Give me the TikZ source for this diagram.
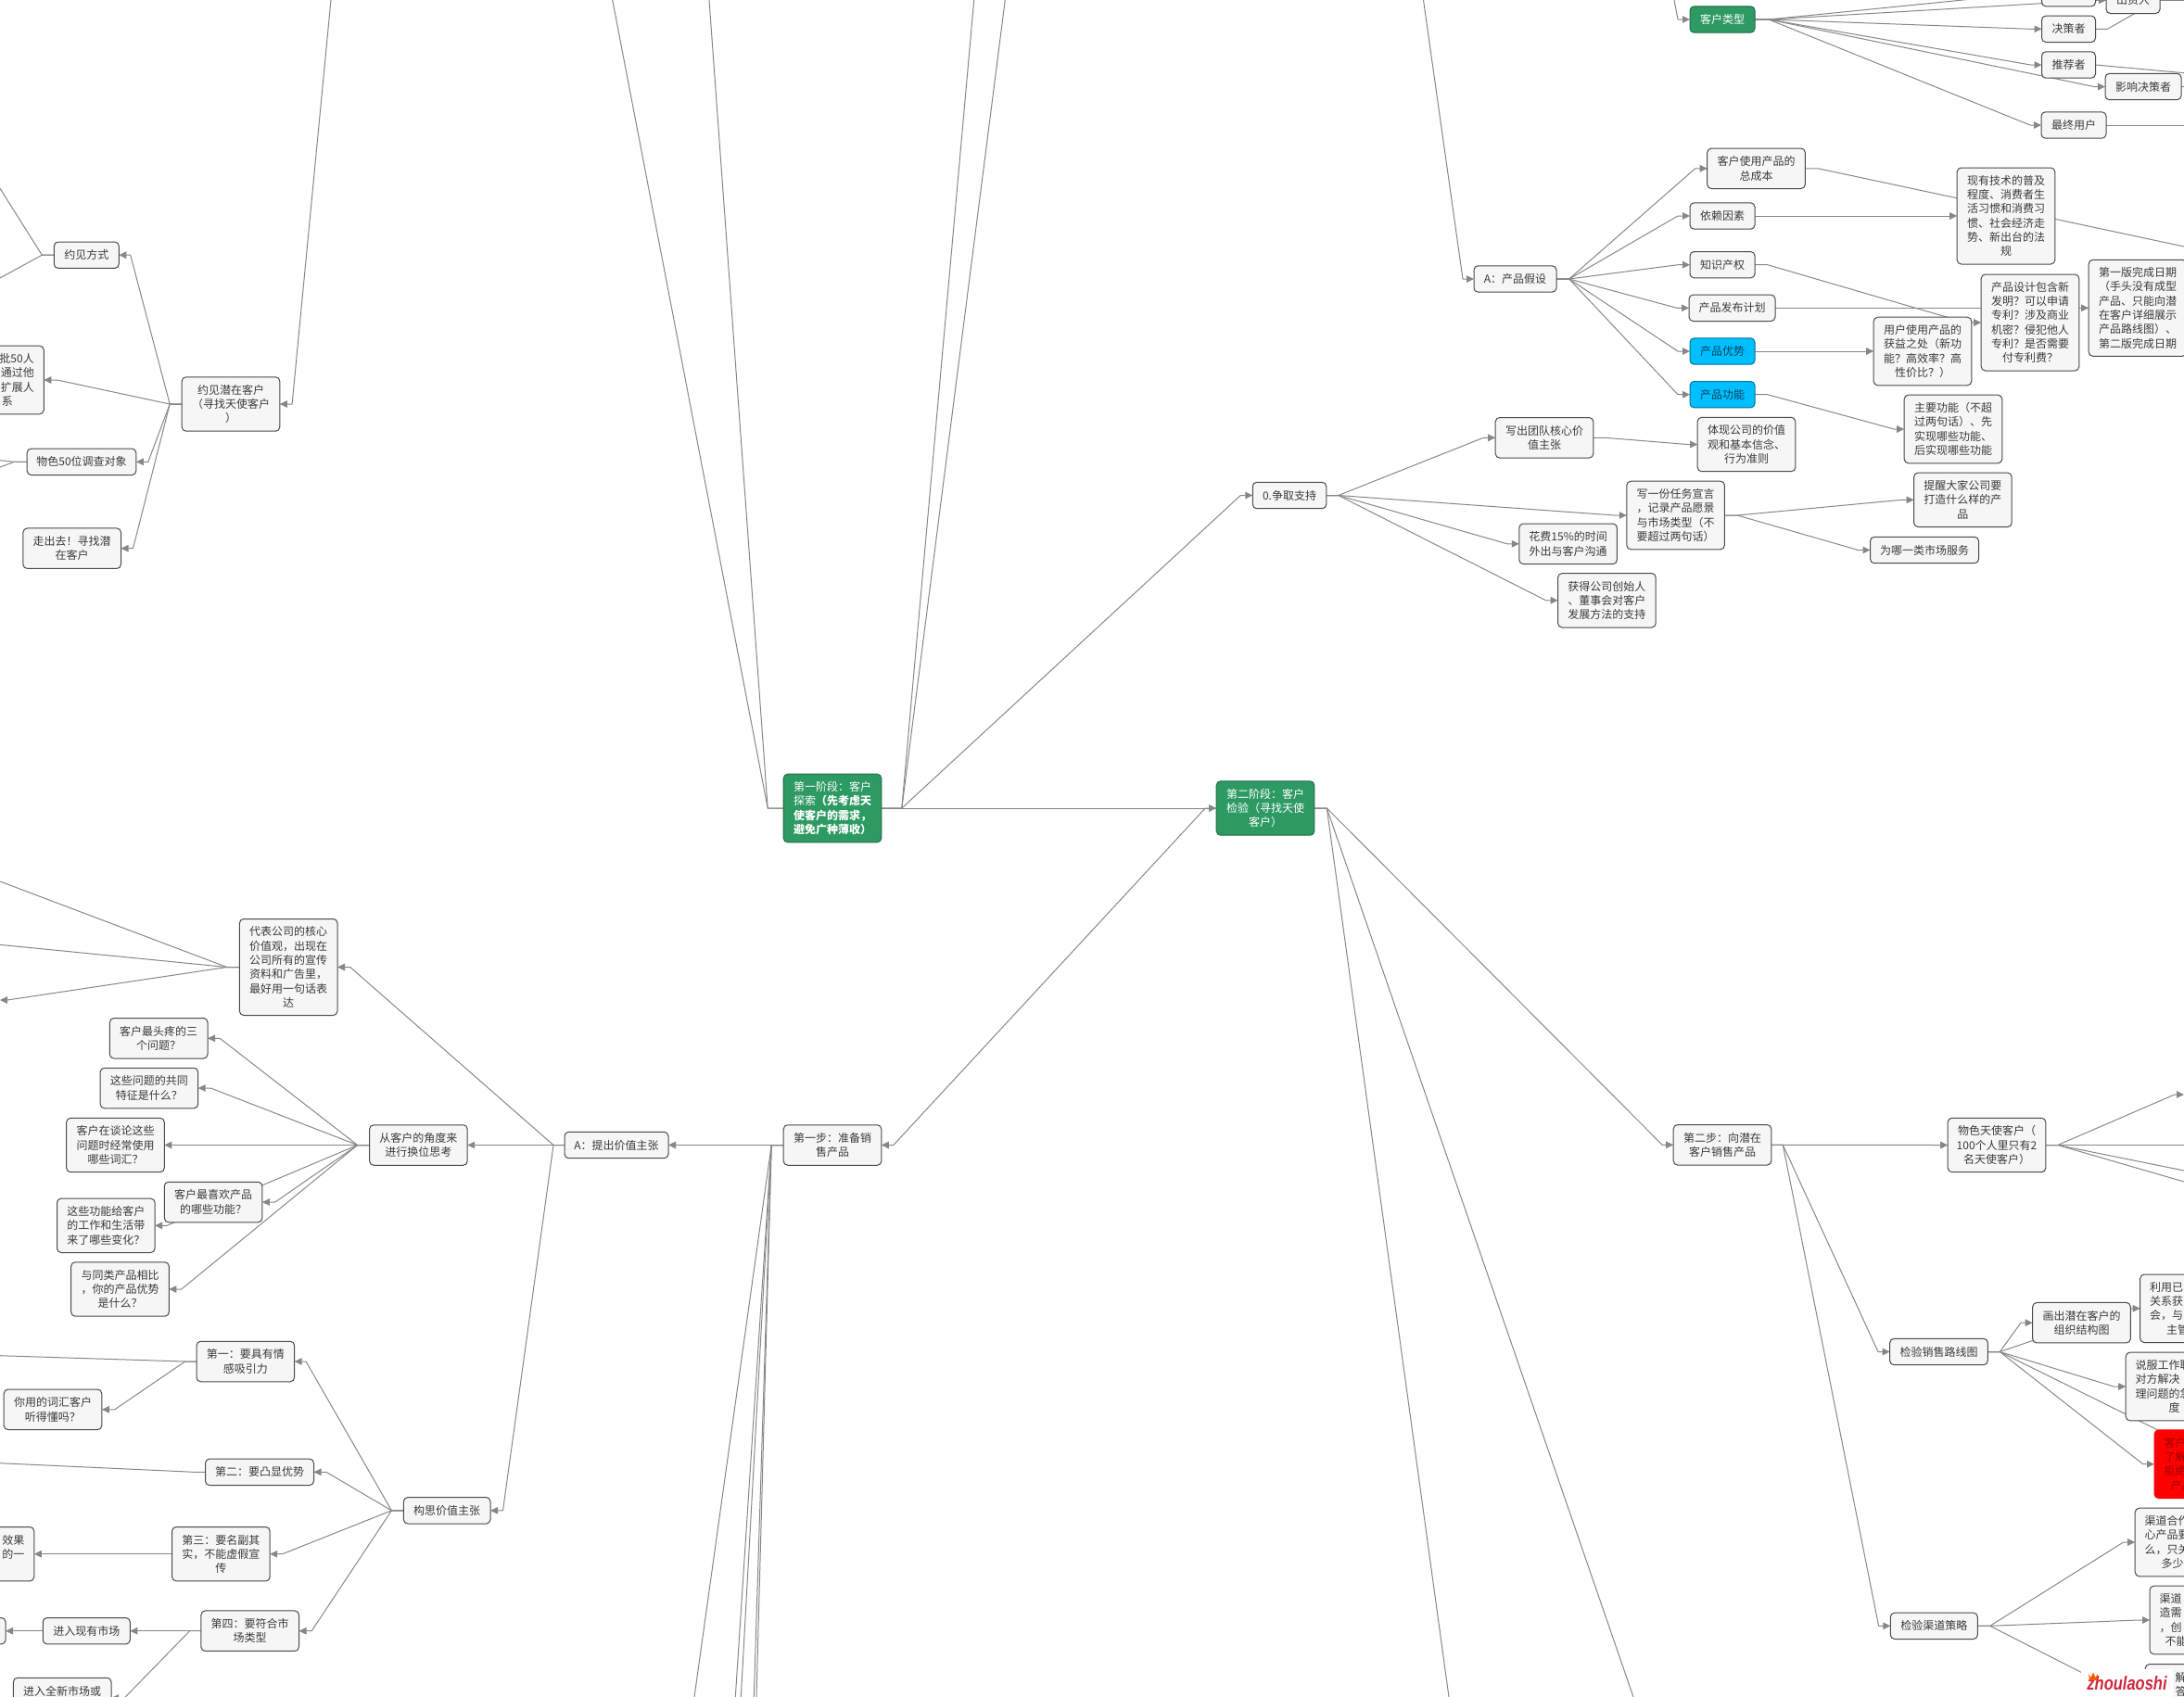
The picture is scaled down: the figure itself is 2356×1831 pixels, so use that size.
\documentclass[tikz,border=0pt]{standalone}
\usepackage{fontspec}
\usepackage{graphicx}
\setmainfont{Noto Sans CJK SC}
\newfontfamily\brandfont{Liberation Sans}
\usetikzlibrary{arrows.meta,backgrounds}
\definecolor{linegray}{HTML}{878787}
\definecolor{edgegray}{HTML}{4A4A4A}
\definecolor{cardfill}{HTML}{F6F6F6}
\definecolor{inkgray}{HTML}{3A3A3A}
\definecolor{phasegreen}{HTML}{2E9A63}
\definecolor{skyfill}{HTML}{00BFFF}
\definecolor{brandred}{HTML}{D0283C}
\tikzset{
	card/.style={rectangle, rounded corners=4.5pt, draw=edgegray, fill=cardfill, line width=1pt, outer sep=0pt, inner sep=0pt, align=center, text=inkgray, font=\fontsize{12}{15.3}\selectfont},
	wide/.style={minimum width=105.6pt},
	row1/.style={minimum height=28.4pt},
	row2/.style={minimum height=43.5pt},
	row3/.style={minimum height=58.4pt},
	row4/.style={minimum height=73.6pt},
	row6/.style={minimum height=104pt},
	phase/.style={card, fill=phasegreen, draw=phasegreen!70!black, text=white},
	sky/.style={card, fill=skyfill, draw=skyfill!60!black, text=skyfill!35!black, minimum width=70pt, row1},
	alert/.style={card, fill=red, draw=red, text=red!62!black},
	cutleft/.style={text width=84.6pt, align=left},
	cutright/.style={text width=84.6pt, align=right},
	link/.style={draw=linegray, line width=1pt, line join=round, -{Triangle[length=8pt,width=7.5pt,fill=linegray]}},
	loose/.style={draw=linegray, line width=1pt, line join=round},
}
\begin{document}
\begin{tikzpicture}[x=1pt,y=-1pt]
	\useasboundingbox (0,0) rectangle (2356,1831);
	\clip (0,0) rectangle (2356,1831);
	% middle of the map
	\node[phase, wide, row4] (phaseone) at (898,872) {第一阶段：客户\\探索\textbf{（先考虑天}\\\textbf{使客户的需求，}\\\textbf{避免广种薄收）}};
	\node[phase, wide, row3] (phasetwo) at (1365,872) {第二阶段：客户\\检验（寻找天使\\客户）};
	\node[card, wide, row2] (stepone) at (898,1235.5) {第一步：准备销\\售产品};
	\node[card, wide, row2] (steptwo) at (1858,1235.3) {第二步：向潜在\\客户销售产品};
	% upper right
	\node[card, minimum width=58pt, row1] (topbox) at (2231.5,-7.3) {};
	\node[card, minimum width=58pt, row1] (investor) at (2301,0.3) {出资人};
	\node[phase, minimum width=70pt, row1] (custtype) at (1858,21) {客户类型};
	\node[card, minimum width=58pt, row1] (decider) at (2231.5,31.3) {决策者};
	\node[card, minimum width=58pt, row1] (referrer) at (2231.5,70) {推荐者};
	\node[card, minimum width=82pt, row1] (influencer) at (2312,93.5) {影响决策者};
	\node[card, minimum width=70pt, row1] (enduser) at (2237,135) {最终用户};
	\node[card, minimum width=89pt, row1] (prodhyp) at (1634.5,301) {A：产品假设};
	\node[card, wide, row2] (totalcost) at (1894.5,181.8) {客户使用产品的\\总成本};
	\node[card, minimum width=70pt, row1] (depend) at (1858,233) {依赖因素};
	\node[card, minimum width=70pt, row1] (patent) at (1858,285.7) {知识产权};
	\node[card, minimum width=93pt, row1] (release) at (1868.5,332.3) {产品发布计划};
	\node[sky] (advantage) at (1858,379) {产品优势};
	\node[sky] (feature) at (1858,425.7) {产品功能};
	\node[card, wide, row6] (techtrend) at (2164,233) {现有技术的普及\\程度、消费者生\\活习惯和消费习\\惯、社会经济走\\势、新出台的法\\规};
	\node[card, wide, row6] (firstdate) at (2306,332.3) {第一版完成日期\\（手头没有成型\\产品、只能向潜\\在客户详细展示\\产品路线图）、\\第二版完成日期};
	\node[card, wide, row6] (design) at (2190,348) {产品设计包含新\\发明？可以申请\\专利？涉及商业\\机密？侵犯他人\\专利？是否需要\\付专利费？};
	\node[card, wide, row4] (benefit) at (2074,379) {用户使用产品的\\获益之处（新功\\能？高效率？高\\性价比？）};
	\node[card, wide, row4] (mainfunc) at (2107,463) {主要功能（不超\\过两句话）、先\\实现哪些功能、\\后实现哪些功能};
	\node[card, minimum width=79.5pt, row1] (support) at (1391,534.5) {0.争取支持};
	\node[card, wide, row2] (teamvalue) at (1666,472.3) {写出团队核心价\\值主张};
	\node[card, wide, row3] (belief) at (1884,479.5) {体现公司的价值\\观和基本信念、\\行为准则};
	\node[card, wide, row4] (mission) at (1807.6,556) {写一份任务宣言\\，记录产品愿景\\与市场类型（不\\要超过两句话）};
	\node[card, wide, row3] (remind) at (2117.4,539.3) {提醒大家公司要\\打造什么样的产\\品};
	\node[card, minimum width=117pt, row1] (whichmarket) at (2076,593.5) {为哪一类市场服务};
	\node[card, wide, row2] (spendtime) at (1691.6,586.8) {花费15\%的时间\\外出与客户沟通};
	\node[card, wide, row3] (backing) at (1733.4,647.8) {获得公司创始人\\、董事会对客户\\发展方法的支持};
	% upper left
	\node[card, wide, row3] (meetcust) at (249,436) {约见潜在客户\\（寻找天使客户\\）};
	\node[card, minimum width=70pt, row1] (meetway) at (93.3,275.2) {约见方式};
	\node[card, wide, row4, cutright] (fiftya) at (-5.5,410) {批50人\\通过他\\扩展人\\系\hspace*{23pt}};
	\node[card, minimum width=117.7pt, row1] (fiftyb) at (88,498.3) {物色50位调查对象};
	\node[card, wide, row2] (goout) at (77.7,591.7) {走出去！寻找潜\\在客户};
	% lower left
	\node[card, minimum width=112pt, row1] (valprop) at (665,1235.5) {A：提出价值主张};
	\node[card, wide, row6] (corevalue) at (311.2,1043.5) {代表公司的核心\\价值观，出现在\\公司所有的宣传\\资料和广告里，\\最好用一句话表\\达};
	\node[card, wide, row2] (standin) at (451.4,1235.5) {从客户的角度来\\进行换位思考};
	\node[card, wide, row2] (pain) at (171.2,1120.3) {客户最头疼的三\\个问题？};
	\node[card, wide, row2] (common) at (160.9,1174) {这些问题的共同\\特征是什么？};
	\node[card, wide, row3] (words) at (124.5,1235.5) {客户在谈论这些\\问题时经常使用\\哪些词汇？};
	\node[card, wide, row2] (favourite) at (230.1,1297) {客户最喜欢产品\\的哪些功能？};
	\node[card, wide, row3] (change) at (114.3,1322.3) {这些功能给客户\\的工作和生活带\\来了哪些变化？};
	\node[card, wide, row3] (compare) at (129.5,1391) {与同类产品相比\\，你的产品优势\\是什么？};
	\node[card, minimum width=93.6pt, row1] (draftprop) at (482.2,1629.8) {构思价值主张};
	\node[card, wide, row2] (ruleone) at (264.8,1469) {第一：要具有情\\感吸引力};
	\node[card, wide, row2] (jargon) at (57,1520.8) {你用的词汇客户\\听得懂吗？};
	\node[card, minimum width=117pt, row1] (ruletwo) at (280,1588.3) {第二：要凸显优势};
	\node[card, wide, row3] (rulethree) at (238.4,1676.7) {第三：要名副其\\实，不能虚假宣\\传};
	\node[card, wide, row3, cutright] (effect) at (-16,1676.7) {效果\\的一\\~};
	\node[card, wide, row2] (rulefour) at (269.7,1759.7) {第四：要符合市\\场类型};
	\node[card, minimum width=94pt, row1] (oldmarket) at (93.3,1759.7) {进入现有市场};
	\node[card, wide, row1] (marketbox) at (-46.8,1759.7) {};
	\node[card, wide, row2] (newmarket) at (67.2,1832) {进入全新市场或\\~};
	% lower right
	\node[card, wide, row3] (angel) at (2154,1235.5) {物色天使客户（\\100个人里只有2\\名天使客户）};
	\node[card, wide, row1] (salesroute) at (2091.5,1458.5) {检验销售路线图};
	\node[card, wide, row2] (orgchart) at (2245.5,1427.2) {画出潜在客户的\\组织结构图};
	\node[card, wide, row4, cutleft] (usecontact) at (2361.5,1411.8) {利用已\\关系获\\会，与\\\hspace*{18pt}主管};
	\node[card, wide, row4, cutleft] (persuade) at (2346,1496) {说服工作职\\对方解决\\理问题的急\\\hspace*{36pt}度};
	\node[alert, wide, row4, cutleft] (refuse) at (2376.8,1579.7) {客户\\了解\\拒绝\\\hspace*{7pt}产品};
	\node[card, minimum width=94pt, row1] (channel) at (2086.3,1754.3) {检验渠道策略};
	\node[card, wide, row4, cutleft] (chanone) at (2356,1664) {渠道合作\\心产品要\\么，只关\\\hspace*{18pt}多少};
	\node[card, wide, row4, cutleft] (chantwo) at (2371.8,1748) {渠道\\造需\\，创\\\hspace*{6pt}不能};
	\node[card, wide, row4, cutleft] (chanthree) at (2367,1832.4) {\hspace*{22pt}解\\\hspace*{22pt}答\\~\\~};
	% free ends of the connectors
	\coordinate (upa) at (660.7,0);
	\coordinate (upb) at (765,0);
	\coordinate (upc) at (1050.7,0);
	\coordinate (upd) at (1084.3,0);
	\coordinate (upe) at (1806,0);
	\coordinate (upf) at (1535.5,0);
	\coordinate (upg) at (357,0);
	\coordinate (downa) at (749,1831);
	\coordinate (downb) at (793.3,1831);
	\coordinate (downc) at (799.3,1831);
	\coordinate (downd) at (813.3,1831);
	\coordinate (downe) at (816,1831);
	\coordinate (downf) at (1762,1831);
	\coordinate (downg) at (1563,1831);
	\coordinate (edgea) at (2356,0.3);
	\coordinate (edgeb) at (2330,-1);
	\coordinate (edgec) at (2356,78.7);
	\coordinate (edged) at (2356,93.5);
	\coordinate (edgee) at (2356,135);
	\coordinate (edgef) at (2356,266);
	\coordinate (edgeg) at (2356,1181);
	\coordinate (edgeh) at (2356,1235.5);
	\coordinate (edgei) at (2356,1263);
	\coordinate (edgej) at (2356,1275);
	\coordinate (edgek) at (2356,1557);
	\coordinate (lefta) at (0,203.3);
	\coordinate (leftb) at (0,300);
	\coordinate (leftc) at (0,496.7);
	\coordinate (leftd) at (0,504);
	\coordinate (lefte) at (0,951);
	\coordinate (leftf) at (0,1019.3);
	\coordinate (leftg) at (0,1079);
	\coordinate (lefth) at (0,1462.7);
	\coordinate (lefti) at (0,1578.7);
	\begin{scope}[on background layer]
		\clip (0,0) rectangle (2356,1831);
		% stage connectors
		\draw [loose] (phaseone.west) -- ++(-17,0) -- (upa);
		\draw [loose] (phaseone.west) -- ++(-17,0) -- (upb);
		\draw [loose] (phaseone.east) -- ++(22,0) -- (upc);
		\draw [loose] (phaseone.east) -- ++(22,0) -- (upd);
		\draw [link] (phaseone.east) -- (phasetwo.west);
		\draw [link] (phaseone.east) -- ++(22,0) -- ([xshift=-13pt]support.west) -- (support.west);
		\draw [link] (phasetwo.west) -- ++(-12,0) -- ([xshift=13pt]stepone.east) -- (stepone.east);
		\draw [link] (phasetwo.east) -- ++(13.5,0) -- ([xshift=-12pt]steptwo.west) -- (steptwo.west);
		\draw [loose] (phasetwo.east) -- ++(13.5,0) -- (downf);
		\draw [loose] (phasetwo.east) -- ++(13.5,0) -- (downg);
		\draw [loose] (stepone.west) -- ++(-13,0) -- (downa);
		\draw [loose] (stepone.west) -- ++(-13,0) -- (downb);
		\draw [loose] (stepone.west) -- ++(-13,0) -- (downc);
		\draw [loose] (stepone.west) -- ++(-13,0) -- (downd);
		\draw [loose] (stepone.west) -- ++(-13,0) -- (downe);
		\draw [link] (stepone.west) -- (valprop.east);
		% upper right
		\draw [link] (upe) -- (1810,21) -- (custtype.west);
		\draw [link] (custtype.east) -- ++(15,0) -- ([xshift=-12pt]topbox.west) -- (topbox.west);
		\draw [link] (custtype.east) -- ++(15,0) -- ([xshift=-12pt]investor.west) -- (investor.west);
		\draw [link] (custtype.east) -- ++(15,0) -- ([xshift=-12pt]decider.west) -- (decider.west);
		\draw [link] (custtype.east) -- ++(15,0) -- ([xshift=-12pt]referrer.west) -- (referrer.west);
		\draw [link] (custtype.east) -- ++(15,0) -- ([xshift=-12pt]influencer.west) -- (influencer.west);
		\draw [link] (custtype.east) -- ++(15,0) -- ([xshift=-12pt]enduser.west) -- (enduser.west);
		\draw [loose] (investor.east) -- (edgea);
		\draw [loose] (decider.east) -- ++(13,0) -- (edgeb);
		\draw [loose] (referrer.east) -- (edgec);
		\draw [loose] (influencer.east) -- (edged);
		\draw [loose] (enduser.east) -- (edgee);
		\draw [link] (upf) -- (1578,301) -- (prodhyp.west);
		\draw [link] (prodhyp.east) -- ++(13.7,0) -- ([xshift=-13pt]totalcost.west) -- (totalcost.west);
		\draw [link] (prodhyp.east) -- ++(13.7,0) -- ([xshift=-13pt]depend.west) -- (depend.west);
		\draw [link] (prodhyp.east) -- ++(13.7,0) -- ([xshift=-13pt]patent.west) -- (patent.west);
		\draw [link] (prodhyp.east) -- ++(13.7,0) -- ([xshift=-13pt]release.west) -- (release.west);
		\draw [link] (prodhyp.east) -- ++(13.7,0) -- ([xshift=-13pt]advantage.west) -- (advantage.west);
		\draw [link] (prodhyp.east) -- ++(13.7,0) -- ([xshift=-13pt]feature.west) -- (feature.west);
		\draw [loose] (totalcost.east) -- ++(14,0) -- (edgef);
		\draw [link] (depend.east) -- (techtrend.west);
		\draw [link] (patent.east) -- ++(13.7,0) -- ([xshift=-17pt]design.west) -- (design.west);
		\draw [link] (release.east) -- (firstdate.west);
		\draw [link] (advantage.east) -- (benefit.west);
		\draw [link] (feature.east) -- ++(13.7,0) -- ([xshift=-11pt]mainfunc.west) -- (mainfunc.west);
		\draw [link] (support.east) -- ++(13,0) -- ([xshift=-13pt]teamvalue.west) -- (teamvalue.west);
		\draw [link] (support.east) -- ++(13,0) -- ([xshift=-13pt]mission.west) -- (mission.west);
		\draw [link] (support.east) -- ++(13,0) -- ([xshift=-13pt]spendtime.west) -- (spendtime.west);
		\draw [link] (support.east) -- ++(13,0) -- ([xshift=-13pt]backing.west) -- (backing.west);
		\draw [link] (teamvalue.east) -- ++(13,0) -- ([xshift=-11pt]belief.west) -- (belief.west);
		\draw [link] (mission.east) -- ++(13.7,0) -- ([xshift=-13pt]remind.west) -- (remind.west);
		\draw [link] (mission.east) -- ++(13.7,0) -- ([xshift=-13pt]whichmarket.west) -- (whichmarket.west);
		% upper left
		\draw [link] (upg) -- ([xshift=13.3pt]meetcust.east) -- (meetcust.east);
		\draw [link] (meetcust.west) -- ++(-13,0) -- ([xshift=12.4pt]meetway.east) -- (meetway.east);
		\draw [link] (meetcust.west) -- ++(-13,0) -- ([xshift=14.4pt]fiftya.east) -- (fiftya.east);
		\draw [link] (meetcust.west) -- ++(-13,0) -- ([xshift=13pt]fiftyb.east) -- (fiftyb.east);
		\draw [link] (meetcust.west) -- ++(-13,0) -- ([xshift=13pt]goout.east) -- (goout.east);
		\draw [loose] (meetway.west) -- ++(-13,0) -- (lefta);
		\draw [loose] (meetway.west) -- ++(-13,0) -- (leftb);
		\draw [loose] (fiftyb.west) -- ++(-13.6,0) -- (leftc);
		\draw [loose] (fiftyb.west) -- ++(-13.6,0) -- (leftd);
		% lower left
		\draw [link] (valprop.west) -- ++(-12,0) -- ([xshift=13.8pt]corevalue.east) -- (corevalue.east);
		\draw [link] (valprop.west) -- (standin.east);
		\draw [link] (valprop.west) -- ++(-12,0) -- ([xshift=13.5pt]draftprop.east) -- (draftprop.east);
		\draw [loose] (corevalue.west) -- ++(-13.6,0) -- (lefte);
		\draw [loose] (corevalue.west) -- ++(-13.6,0) -- (leftf);
		\draw [link] (corevalue.west) -- ++(-13.6,0) -- (8,1079) -- (leftg);
		\draw [link] (standin.west) -- ++(-13,0) -- ([xshift=13.2pt]pain.east) -- (pain.east);
		\draw [link] (standin.west) -- ++(-13,0) -- ([xshift=13.5pt]common.east) -- (common.east);
		\draw [link] (standin.west) -- (words.east);
		\draw [link] (standin.west) -- ++(-13,0) -- ([xshift=13.9pt]favourite.east) -- (favourite.east);
		\draw [link] (standin.west) -- ++(-13,0) -- ([xshift=13pt]change.east) -- (change.east);
		\draw [link] (standin.west) -- ++(-13,0) -- ([xshift=13.4pt]compare.east) -- (compare.east);
		\draw [link] (draftprop.west) -- ++(-13,0) -- ([xshift=12.5pt]ruleone.east) -- (ruleone.east);
		\draw [link] (draftprop.west) -- ++(-13,0) -- ([xshift=13.5pt]ruletwo.east) -- (ruletwo.east);
		\draw [link] (draftprop.west) -- ++(-13,0) -- ([xshift=13.5pt]rulethree.east) -- (rulethree.east);
		\draw [link] (draftprop.west) -- ++(-13,0) -- ([xshift=13.7pt]rulefour.east) -- (rulefour.east);
		\draw [loose] (ruleone.west) -- ++(-12.3,0) -- (lefth);
		\draw [link] (ruleone.west) -- ++(-12.3,0) -- ([xshift=13.9pt]jargon.east) -- (jargon.east);
		\draw [loose] (ruletwo.west) -- ++(-12,0) -- (lefti);
		\draw [link] (rulethree.west) -- (effect.east);
		\draw [link] (rulefour.west) -- (oldmarket.east);
		\draw [link] (rulefour.west) -- ++(-12.2,0) -- ([xshift=14.2pt]newmarket.east) -- (newmarket.east);
		\draw [link] (oldmarket.west) -- (marketbox.east);
		% lower right
		\draw [link] (steptwo.east) -- (angel.west);
		\draw [link] (steptwo.east) -- ++(12.5,0) -- ([xshift=-12.7pt]salesroute.west) -- (salesroute.west);
		\draw [link] (steptwo.east) -- ++(12.5,0) -- ([xshift=-12.7pt]channel.west) -- (channel.west);
		\draw [link] (angel.east) -- ++(13,0) -- (2345.7,1181) -- (edgeg);
		\draw [loose] (angel.east) -- (edgeh);
		\draw [loose] (angel.east) -- ++(13,0) -- (edgei);
		\draw [loose] (angel.east) -- ++(13,0) -- (edgej);
		\draw [link] (salesroute.east) -- ++(13,0) -- ([xshift=-12.7pt]orgchart.west) -- (orgchart.west);
		\draw [link] (salesroute.east) -- ++(13,0) -- ([xshift=-14pt]usecontact.west) -- (usecontact.west);
		\draw [link] (salesroute.east) -- ++(13,0) -- ([xshift=-13pt]persuade.west) -- (persuade.west);
		\draw [loose] (salesroute.east) -- ++(13,0) -- (edgek);
		\draw [link] (salesroute.east) -- ++(13,0) -- ([xshift=-12.3pt]refuse.west) -- (refuse.west);
		\draw [link] (channel.east) -- ++(13.4,0) -- ([xshift=-12.6pt]chanone.west) -- (chanone.west);
		\draw [link] (channel.east) -- ++(13.4,0) -- ([xshift=-12pt]chantwo.west) -- (chantwo.west);
		\draw [link] (channel.east) -- ++(13.4,0) -- ([xshift=-14pt]chanthree.west) -- (chanthree.west);
	\end{scope}
	% watermark
	\node[fill=white, inner sep=0pt, minimum width=99pt, minimum height=31pt, text=brandred] (brand) at (2294.5,1816) {\scalebox{1}[1.25]{\brandfont\bfseries\itshape\fontsize{16.5}{17}\selectfont zhoulaoshi}};
	\fill[orange!70!red] (2253,1806) -- (2255.5,1810) -- (2258,1804.5) -- (2260.5,1810) -- (2263,1806) -- (2262,1813) -- (2254,1813) -- cycle;
\end{tikzpicture}
\end{document}
